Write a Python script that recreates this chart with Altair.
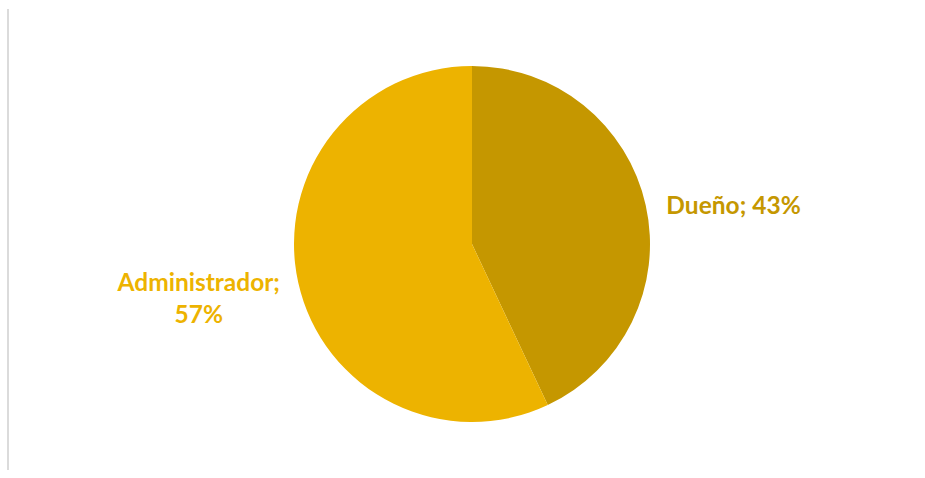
import altair as alt
import pandas as pd

categories = ["Dueño", "Administrador"]
values = [43, 57]
colors = ["#C59700", "#EDB300"]

df = pd.DataFrame({"cat": categories, "val": values, "order": [0, 1]})
cscale = alt.Scale(domain=categories, range=colors)
tscale = alt.Scale(domain=[0, 1])

base = alt.Chart(df).transform_window(
    cum="sum(val)", sort=[alt.SortField("order")]
).transform_joinaggregate(
    total="sum(val)"
).transform_calculate(
    t0="(datum.cum - datum.val) / datum.total",
    t1="datum.cum / datum.total",
    mid="(datum.cum - datum.val / 2) / datum.total",
    label="datum.cat == 'Administrador' ? datum.cat + ';\\n' + datum.val + '%' : datum.cat + '; ' + datum.val + '%'"
)

pie = base.mark_arc(stroke=None).encode(
    theta=alt.Theta("t0:Q", scale=tscale),
    theta2="t1:Q",
    color=alt.Color("cat:N", scale=cscale, legend=None),
    x=alt.value(472),
    y=alt.value(244),
    radius=alt.value(178),
)

def label_layer(cat, r, dy):
    return base.transform_filter(alt.datum.cat == cat).mark_text(
        font="Lato", fontWeight="bold", fontSize=24.5, lineBreak="\n", dy=dy, lineHeight=32
    ).encode(
        theta=alt.Theta("mid:Q", scale=tscale),
        text="label:N",
        color=alt.Color("cat:N", scale=cscale, legend=None),
        x=alt.value(472),
        y=alt.value(244),
        radius=alt.value(r),
    )

lab1 = label_layer("Dueño", 268, 21)
lab2 = label_layer("Administrador", 280, -21)

border = alt.Chart(df).mark_rule(color="#D9D9D9", strokeWidth=1.5).encode(
    x=alt.value(8), y=alt.value(9), y2=alt.value(470)
)

chart = alt.layer(border, pie, lab1, lab2).properties(
    width=925, height=478, autosize=alt.AutoSizeParams(type="none"), padding=0
).configure_view(stroke=None)

chart.save("out.html", embed_options={"renderer": "svg", "actions": False})
